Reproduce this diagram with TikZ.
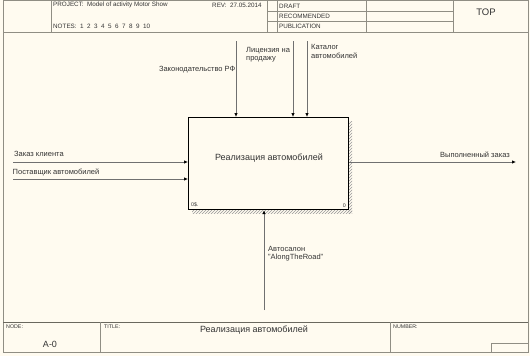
\documentclass[tikz,border=0pt]{standalone}
\usepackage{fontspec}
\setmainfont{Liberation Sans}
\usetikzlibrary{arrows.meta,patterns}
\definecolor{bg}{HTML}{FFFBF0}
\definecolor{frm}{HTML}{908E84}
\definecolor{dk}{HTML}{6A685E}
\definecolor{arrline}{HTML}{707070}
\begin{document}
\begin{tikzpicture}[x=1pt,y=-1pt,
  frameline/.style={draw=frm,line width=0.8pt},
  darkline/.style={draw=dk,line width=0.9pt},
  tiny/.style={font=\fontsize{6.3}{7}\selectfont,inner sep=0pt,text=black!80},
  tinier/.style={font=\fontsize{5.3}{6}\selectfont,inner sep=0pt,text=black!80},
  lbl/.style={font=\fontsize{7.5}{8.5}\selectfont,inner sep=0pt,text=black!80,align=left},
  arr/.style={draw=arrline,line width=0.7pt,-{Latex[length=4pt,width=3.4pt,black]}},
  func/.style={draw=black,line width=1.2pt,fill=bg,minimum width=160pt,minimum height=92pt,inner sep=0pt,anchor=north west}]
\useasboundingbox (0,0) rectangle (530,356);
\fill[bg] (0,0) rectangle (530,356);
% outer frame
\draw[frameline] (3,0.6) rectangle (528,352);
% header
\draw[frameline] (3,32) -- (528,32);
\draw[frameline] (51,0.6) -- (51,32);
\draw[frameline] (267,0.6) -- (267,32);
\draw[frameline] (277,0.6) -- (277,32);
\draw[frameline] (366,0.6) -- (366,32);
\draw[frameline] (453,0.6) -- (453,32);
\draw[frameline] (267,11.5) -- (453,11.5);
\draw[frameline] (267,21.5) -- (453,21.5);
\node[tiny,anchor=west] (proj) at (53,5) {PROJECT:\ \ Model of activity Motor Show};
\node[tiny,anchor=west] (rev) at (212,5) {REV:\ \ 27.05.2014};
\node[tiny,anchor=west] (notes) at (53,26.5) {NOTES:\ \ 1\ \ 2\ \ 3\ \ 4\ \ 5\ \ 6\ \ 7\ \ 8\ \ 9\ \ 10};
\node[tiny,anchor=west] (draft) at (279,6) {DRAFT};
\node[tiny,anchor=west] (recom) at (279,16.5) {RECOMMENDED};
\node[tiny,anchor=west] (publ) at (279,26.5) {PUBLICATION};
\node[font=\fontsize{9.5}{10}\selectfont,inner sep=0pt,text=black!80] (top) at (486,12) {TOP};
% footer
\draw[darkline] (3,322) -- (528,322);
\draw[frameline] (100,322) -- (100,352);
\draw[frameline] (390,322) -- (390,352);
\draw[frameline] (491,352) |- (528,343);
\node[tinier,anchor=north west] (nodel) at (6,325) {NODE:};
\node[tinier,anchor=north west] (titlel) at (104,325) {TITLE:};
\node[tinier,anchor=north west] (numl) at (393,325) {NUMBER:};
\node[font=\fontsize{9}{10}\selectfont,inner sep=0pt,text=black!80] (nodenum) at (50,344) {A-0};
\node[font=\fontsize{9}{10}\selectfont,inner sep=0pt,text=black!80] (ttl) at (254,330) {Реализация автомобилей};
% shadow
\fill[pattern=north east lines,pattern color=gray!80] (348,121) rectangle (352,213);
\fill[pattern=north east lines,pattern color=gray!80] (192,209) rectangle (352,213);
% function box
\node[func] (box) at (188,117) {};
\node[font=\fontsize{9}{10}\selectfont,inner sep=0pt,text=black!80] (boxt) at (269,158) {Реализация автомобилей};
\node[tinier,anchor=south west] (cost) at (191,207.5) {0\$.};
\node[tinier,anchor=south east] (bnum) at (346,207.5) {0};
% controls
\coordinate (c1) at (236,41);
\coordinate (c2) at (293,41);
\coordinate (c3) at (307,41);
\draw[arr] (c1) -- (c1 |- box.north);
\draw[arr] (c2) -- (c2 |- box.north);
\draw[arr] (c3) -- (c3 |- box.north);
\node[lbl,anchor=east] (l1) at (235.5,69.5) {Законодательство РФ};
\node[lbl,anchor=north west] (l2) at (246,47) {Лицензия на\\продажу};
\node[lbl,anchor=north west] (l3) at (311,44.5) {Каталог\\автомобилей};
% inputs
\coordinate (i1) at (13,162);
\coordinate (i2) at (13,179);
\draw[arr] (i1) -- (i1 -| box.west);
\draw[arr] (i2) -- (i2 -| box.west);
\node[lbl,anchor=west] (li1) at (14,154) {Заказ клиента};
\node[lbl,anchor=west] (li2) at (12.5,172) {Поставщик автомобилей};
% output
\coordinate (o1) at (516,162);
\draw[arr] (box.east |- o1) -- (o1);
\node[lbl,anchor=east] (lo1) at (510,155) {Выполненный заказ};
% mechanism
\coordinate (m1) at (264,310);
\draw[arr] (m1) -- (m1 |- box.south);
\node[lbl,anchor=north west] (lm1) at (268,246) {Автосалон\\"AlongTheRoad"};
\end{tikzpicture}
\end{document}
